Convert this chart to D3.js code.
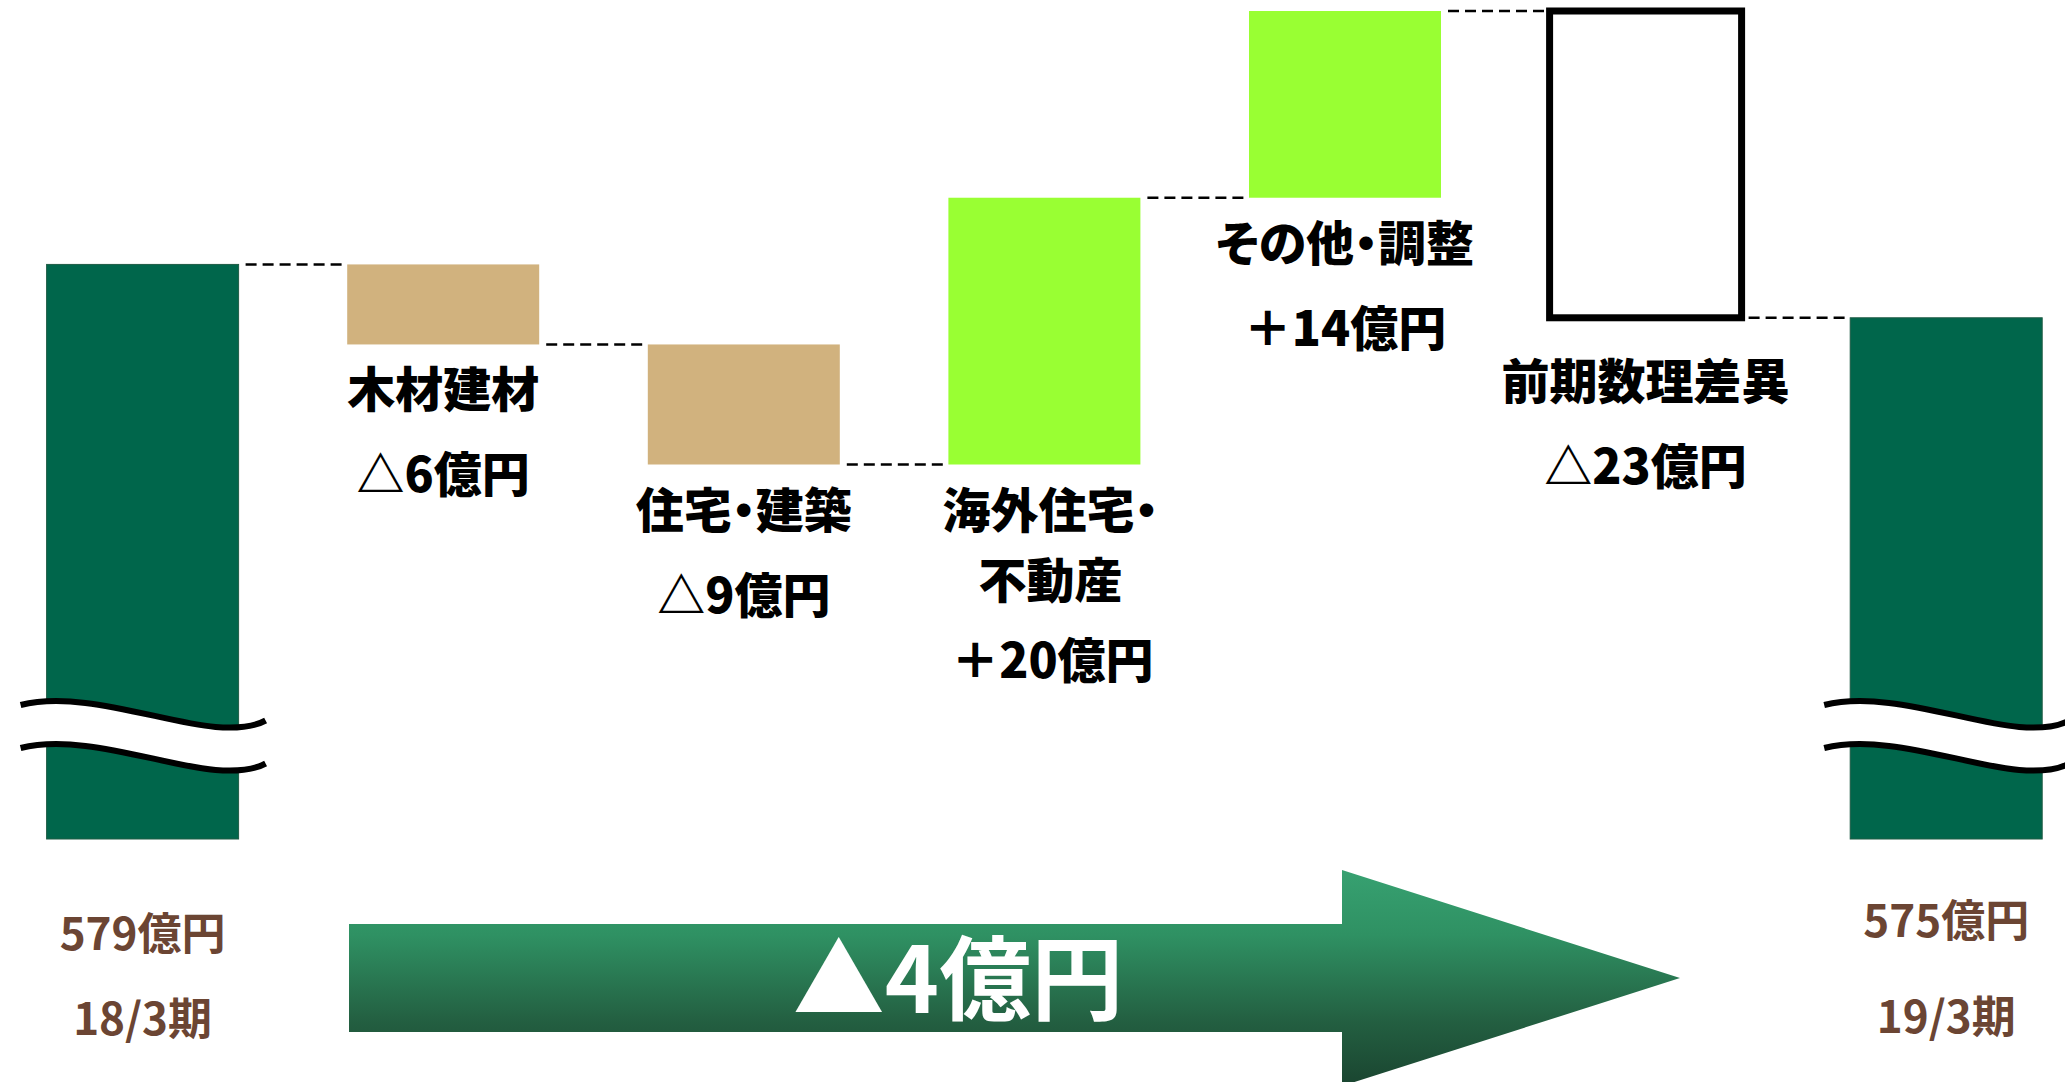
<!DOCTYPE html>
<html lang="ja">
<head>
<meta charset="utf-8">
<script src="https://cdn.jsdelivr.net/npm/d3@7"></script>
<style>
  html, body { margin: 0; padding: 0; background: #ffffff; }
  svg { display: block; }
  text { font-family: "Noto Sans CJK JP", "Noto Sans", sans-serif; }
</style>
</head>
<body>
<script>
// ---- data (億円) ----
const periods = ["18/3期", "19/3期"];
const startValue = 579;
const endValue = 575;
const categoryLines = [["木材建材"], ["住宅・建築"], ["海外住宅・", "不動産"], ["その他・調整"], ["前期数理差異"]];
const changes = [-6, -9, 20, 14, -23];
const kinds = ["segment", "segment", "segment", "segment", "adjustment"];

// ---- layout ----
const W = 2065, H = 1082;
const barW = 192;
const baseY = 839;            // bottom of the broken-axis total bars
const colors = {
  total: "#00664b",
  down: "#d1b27e",
  up: "#99ff33",
  text: "#000000",
  endText: "#6b4533"
};

const svg = d3.select("body").append("svg")
  .attr("width", W).attr("height", H)
  .attr("viewBox", `0 0 ${W} ${H}`);

// running levels of the waterfall
const levels = [startValue];
changes.forEach(c => levels.push(levels[levels.length - 1] + c));
const steps = changes.map((c, i) => ({
  i: i + 1, from: levels[i], to: levels[i + 1], change: c,
  kind: kinds[i], lines: categoryLines[i]
}));

const x = d3.scalePoint().domain(d3.range(changes.length + 2)).range([142.6, 1946.2]);
const y = d3.scaleLinear().domain(d3.extent(levels)).range([464.5, 11]);

const fmtChange = v => (v < 0 ? "△" : "＋") + Math.abs(v) + "億円";

// ---- gradient for the summary arrow ----
const defs = svg.append("defs");
const grad = defs.append("linearGradient")
  .attr("id", "arrowGrad")
  .attr("gradientUnits", "userSpaceOnUse")
  .attr("x1", 0).attr("x2", 0).attr("y1", 870).attr("y2", 1086);
[["0%", "#37a171"], ["30%", "#2f9163"], ["70%", "#235f41"], ["100%", "#1a4530"]]
  .forEach(([o, c]) => grad.append("stop").attr("offset", o).attr("stop-color", c));

// ---- total bars with axis-break marks ----
const totals = [
  { pos: 0, value: startValue, period: periods[0], valueY: 931, periodY: 1016 },
  { pos: changes.length + 1, value: endValue, period: periods[1], valueY: 918, periodY: 1014 }
];

const gTotals = svg.append("g");
gTotals.selectAll("rect").data(totals).join("rect")
  .attr("x", d => x(d.pos) - barW / 2)
  .attr("y", d => y(d.value))
  .attr("width", barW)
  .attr("height", d => baseY - y(d.value))
  .attr("fill", colors.total)
  .attr("stroke", "#1f5c45").attr("stroke-width", 1);

// wavy break: white band between two black waves
const wave = (x0, y0) => {
  const p = d3.path();
  p.moveTo(x0, y0);
  p.bezierCurveTo(x0 + 60, y0 - 15, x0 + 140, y0 + 17, x0 + 195, y0 + 22);
  p.bezierCurveTo(x0 + 220, y0 + 24, x0 + 235, y0 + 21, x0 + 245, y0 + 15.5);
  return p.toString();
};
const breakTop = 705, breakGap = 43;
totals.forEach(d => {
  const x0 = x(d.pos) - barW / 2 - 26;
  gTotals.append("path").attr("d", wave(x0, breakTop + breakGap / 2))
    .attr("fill", "none").attr("stroke", "#ffffff").attr("stroke-width", breakGap - 4);
  [0, breakGap].forEach(off => gTotals.append("path").attr("d", wave(x0, breakTop + off))
    .attr("fill", "none").attr("stroke", "#000000").attr("stroke-width", 6));
});

gTotals.selectAll("text.val").data(totals).join("text")
  .attr("class", "val")
  .attr("x", d => x(d.pos)).attr("y", d => d.valueY)
  .attr("text-anchor", "middle").attr("dominant-baseline", "central")
  .attr("font-size", 44).attr("font-weight", 700).attr("fill", colors.endText)
  .text(d => d.value + "億円");
gTotals.selectAll("text.per").data(totals).join("text")
  .attr("class", "per")
  .attr("x", d => x(d.pos)).attr("y", d => d.periodY)
  .attr("text-anchor", "middle").attr("dominant-baseline", "central")
  .attr("font-size", 44).attr("font-weight", 700).attr("fill", colors.endText)
  .text(d => d.period);

// ---- dashed connectors between consecutive bars ----
svg.append("g").selectAll("line").data(levels).join("line")
  .attr("x1", (d, i) => x(i) + barW / 2 + 7)
  .attr("x2", (d, i) => x(i + 1) - barW / 2 - 4)
  .attr("y1", d => y(d)).attr("y2", d => y(d))
  .attr("stroke", "#000").attr("stroke-width", 2.6)
  .attr("stroke-dasharray", "11,6");

// ---- change bars ----
const gSteps = svg.append("g");
gSteps.selectAll("rect").data(steps).join("rect")
  .attr("x", d => x(d.i) - barW / 2)
  .attr("y", d => y(Math.max(d.from, d.to)))
  .attr("width", barW)
  .attr("height", d => Math.abs(y(d.from) - y(d.to)))
  .attr("fill", d => d.kind === "adjustment" ? "#ffffff" : (d.change < 0 ? colors.down : colors.up))
  .attr("stroke", d => d.kind === "adjustment" ? "#000000" : "none")
  .attr("stroke-width", d => d.kind === "adjustment" ? 7 : 0);

// category names and amounts under each change bar
const lineStep = 70;
steps.forEach(d => {
  const multi = d.lines.length > 1;
  const bottom = y(Math.min(d.from, d.to)) + (d.kind === "adjustment" ? 18 : 0);
  const first = bottom + 42;
  const cx = x(d.i) + (multi ? 6 : 0);
  const name = gSteps.append("text")
    .attr("text-anchor", "middle").attr("dominant-baseline", "central")
    .attr("font-size", 48).attr("font-weight", 900).attr("fill", colors.text)
    .style("font-feature-settings", "\"palt\"");
  d.lines.forEach((ln, k) => {
    name.append("tspan")
      .attr("x", cx)
      .attr("y", first + k * lineStep)
      .text(ln);
  });
  gSteps.append("text")
    .attr("x", x(d.i) + (multi ? 8 : 0))
    .attr("y", first + (d.lines.length - 1) * lineStep + (multi ? 80 : 85))
    .attr("text-anchor", "middle").attr("dominant-baseline", "central")
    .attr("font-size", 48).attr("font-weight", 900).attr("fill", colors.text)
    .text(fmtChange(d.change));
});

// ---- summary arrow: overall change ----
const totalChange = endValue - startValue;
const ax0 = 349, axHead = 1342, axTip = 1680, bodyTop = 924, bodyBot = 1032, headTop = 870, headBot = 1086;
const cy = (headTop + headBot) / 2;
svg.append("path")
  .attr("d", `M${ax0},${bodyTop} L${axHead},${bodyTop} L${axHead},${headTop} L${axTip},${cy} L${axHead},${headBot} L${axHead},${bodyBot} L${ax0},${bodyBot} Z`)
  .attr("fill", "url(#arrowGrad)");
svg.append("text")
  .attr("x", 958).attr("y", 972)
  .attr("text-anchor", "middle").attr("dominant-baseline", "central")
  .attr("font-size", 92).attr("font-weight", 700).attr("fill", "#ffffff")
  .text((totalChange < 0 ? "▲" : "＋") + Math.abs(totalChange) + "億円");
</script>
</body>
</html>
